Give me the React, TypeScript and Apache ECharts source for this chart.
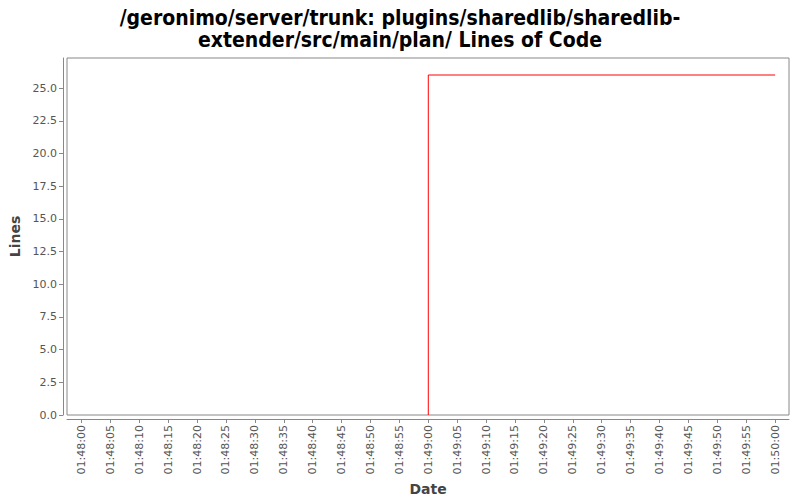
import React, { useEffect, useRef } from "react";
import * as echarts from "echarts";

const titleLines = [
  "/geronimo/server/trunk: plugins/sharedlib/sharedlib-",
  "extender/src/main/plan/ Lines of Code",
];
const startTime = "01:48:00";
const times = ["01:49:00", "01:49:00", "01:50:00"];
const linesValues = [0, 26, 26];
const xTickLabels = [
  "01:48:00", "01:48:05", "01:48:10", "01:48:15", "01:48:20", "01:48:25",
  "01:48:30", "01:48:35", "01:48:40", "01:48:45", "01:48:50", "01:48:55",
  "01:49:00", "01:49:05", "01:49:10", "01:49:15", "01:49:20", "01:49:25",
  "01:49:30", "01:49:35", "01:49:40", "01:49:45", "01:49:50", "01:49:55",
  "01:50:00",
];
const yTicks = [0, 2.5, 5, 7.5, 10, 12.5, 15, 17.5, 20, 22.5, 25];

const toSec = (t: string) => {
  const [h, m, s] = t.split(":").map(Number);
  return h * 3600 + m * 60 + s;
};
const base = toSec(startTime);
const fmt = (v: number) => {
  const total = Math.round(v + base);
  const h = Math.floor(total / 3600);
  const m = Math.floor((total % 3600) / 60);
  const s = total % 60;
  const p = (n: number) => String(n).padStart(2, "0");
  return `${p(h)}:${p(m)}:${p(s)}`;
};

export default function App() {
  const ref = useRef<HTMLDivElement>(null);
  useEffect(() => {
    if (!ref.current) return;
    const chart = echarts.init(ref.current, undefined, { renderer: "svg" });
    const xTicks = xTickLabels.map((t) => toSec(t) - base);
    const data = times.map((t, i) => [toSec(t) - base, linesValues[i]]);
    chart.setOption({
      animation: false,
      backgroundColor: "#ffffff",
      title: {
        text: titleLines.join("\n"),
        left: "center",
        top: 2,
        textStyle: {
          fontFamily: "DejaVu Sans Condensed",
          fontWeight: "bold",
          fontSize: 21,
          lineHeight: 22,
          color: "#000000",
        },
      },
      grid: {
        left: 67,
        right: 11,
        top: 58,
        bottom: 85,
        outerBoundsMode: "none",
        containLabel: false,
        show: true,
        borderColor: "#888888",
        borderWidth: 1,
        backgroundColor: "#ffffff",
      },
      xAxis: {
        type: "value",
        min: -2.5,
        max: 122.4,
        offset: 4,
        name: "Date",
        nameLocation: "middle",
        nameGap: 61,
        nameTextStyle: {
          fontFamily: "DejaVu Sans",
          fontWeight: "bold",
          fontSize: 14,
          color: "#444444",
        },
        axisLine: {
          show: true,
          onZero: false,
          lineStyle: { color: "#888888", width: 1 },
        },
        axisTick: {
          show: true,
          length: 4,
          customValues: xTicks,
          lineStyle: { color: "#888888" },
        },
        axisLabel: {
          customValues: xTicks,
          rotate: 90,
          margin: 6,
          fontFamily: "DejaVu Sans",
          fontSize: 11,
          color: "#555555",
          formatter: (v: number) => fmt(v),
        },
        splitLine: { show: false },
      },
      yAxis: {
        type: "value",
        min: 0,
        max: 27.3,
        offset: 4,
        name: "Lines",
        nameLocation: "middle",
        nameGap: 36,
        nameTextStyle: {
          fontFamily: "DejaVu Sans",
          fontWeight: "bold",
          fontSize: 14,
          color: "#444444",
        },
        axisLine: {
          show: true,
          onZero: false,
          lineStyle: { color: "#888888", width: 1 },
        },
        axisTick: {
          show: true,
          length: 4,
          customValues: yTicks,
          lineStyle: { color: "#888888" },
        },
        axisLabel: {
          customValues: yTicks,
          margin: 6,
          fontFamily: "DejaVu Sans",
          fontSize: 11,
          color: "#555555",
          formatter: (v: number) => v.toFixed(1),
        },
        splitLine: { show: false },
      },
      series: [
        {
          type: "line",
          data,
          showSymbol: false,
          symbol: "none",
          lineStyle: { color: "#ff0000", width: 1 },
          itemStyle: { color: "#ff0000" },
        },
      ],
    });
    return () => chart.dispose();
  }, []);
  return (
    <div
      ref={ref}
      style={{ position: "fixed", left: 0, top: 0, width: 800, height: 500 }}
    />
  );
}
